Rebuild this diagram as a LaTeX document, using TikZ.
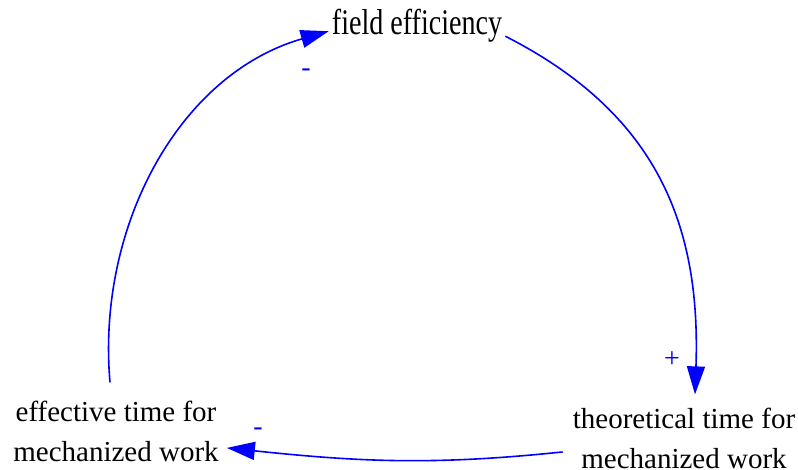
\documentclass[tikz,border=0pt]{standalone}
\usepackage{fontspec}
\setmainfont{Liberation Serif}
\newfontfamily\headfont[FakeStretch=0.78]{Liberation Serif}
\usetikzlibrary{arrows.meta}
\definecolor{linkblue}{RGB}{0,0,255}

\tikzset{
  var/.style={align=center,inner sep=3pt,font=\fontsize{29}{40}\selectfont},
  link/.style={draw=linkblue,line width=1.6pt,-{Triangle[length=28pt,width=18pt]}},
  pol/.style={text=linkblue,inner sep=0pt,font=\fontsize{28}{28}\selectfont}
}

\begin{document}
\begin{tikzpicture}[x=1pt,y=1pt]
\useasboundingbox (0,0) rectangle (798,469);
% variables
\node[var,anchor=base,font=\headfont\fontsize{36}{40}\selectfont] (fe) at (417,434) {field efficiency};
\node[var,anchor=base] (tt) at (684,1) {theoretical time for\\mechanized work};
\node[var,anchor=base] (ef) at (116,8) {effective time for\\mechanized work};
% causal links
\draw[link] ([yshift=-10pt]fe.east) .. controls +(-27:170) and +(88:170) .. ([xshift=11pt,yshift=10pt]tt.north);
\draw[link] ([xshift=-7pt,yshift=-14pt]tt.west) to[out=186,in=-6] ([xshift=5pt,yshift=-17pt]ef.east);
\draw[link] ([xshift=-6pt,yshift=15pt]ef.north) .. controls +(95:156) and +(196:156) .. ([yshift=-5pt]fe.west);
% polarities
\node[pol] (p1) at (672,109) {+};
\node[pol] (p2) at (258,37) {-};
\node[pol] (p3) at (306,396) {-};
\end{tikzpicture}
\end{document}
